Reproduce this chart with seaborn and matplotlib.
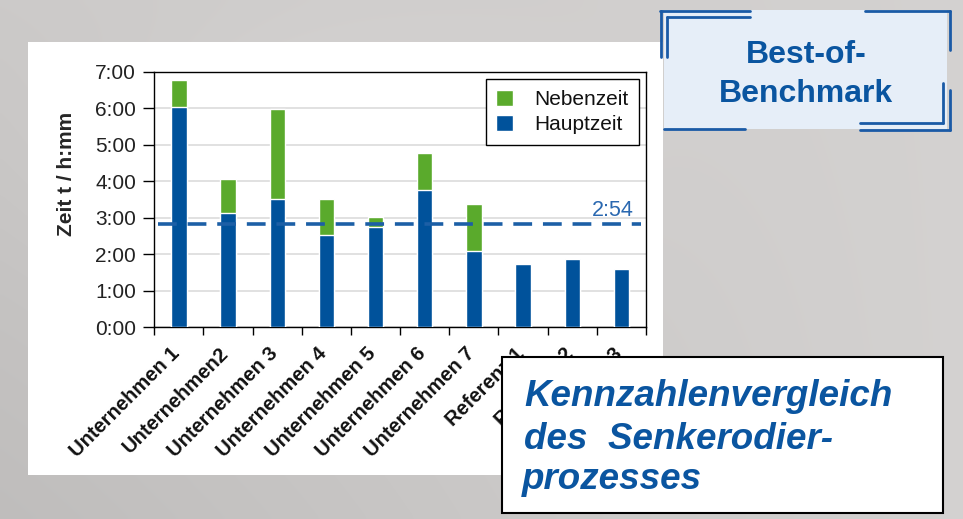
import numpy as np
import pandas as pd
import matplotlib
matplotlib.use("Agg")
import matplotlib.pyplot as plt
from matplotlib.patches import Rectangle
from matplotlib.lines import Line2D
from matplotlib.ticker import FixedLocator, FuncFormatter
from matplotlib.transforms import ScaledTranslation
import seaborn as sns

# ---- data (hours) ----
categories = ["Unternehmen 1", "Unternehmen2", "Unternehmen 3", "Unternehmen 4",
              "Unternehmen 5", "Unternehmen 6", "Unternehmen 7",
              "Referenz 1", "Referenz 2", "Referenz 3"]
hauptzeit = [6.04, 3.12, 3.51, 2.52, 2.74, 3.76, 2.08, 1.73, 1.87, 1.59]
nebenzeit = [0.73, 0.93, 2.48, 0.99, 0.27, 1.01, 1.29, 0.0, 0.0, 0.0]
benchmark = 2.82
benchmark_label = "2:54"
y_ticks = [0, 1, 2, 3, 4, 5, 6, 7]

BLUE = "#00529b"
GREEN = "#5aaa2c"
TXTBLUE = "#0a55a0"

sns.set_theme(style="white")
plt.rcParams["font.family"] = ["Liberation Sans", "DejaVu Sans"]

W, H = 963, 519
fig = plt.figure(figsize=(W / 100, H / 100), dpi=100)

# ---- blurred-looking background ----
bg = fig.add_axes([0, 0, 1, 1], zorder=-10)
yy, xx = np.mgrid[0:1:120j, 0:1:220j]
base = 0.80 + 0.04 * np.exp(-((xx - 0.35) ** 2 + (yy - 0.3) ** 2) / 0.05) \
       - 0.05 * yy * (1 - xx) + 0.03 * xx
img = np.dstack([base, base * 0.99, base * 0.985])
bg.imshow(np.clip(img, 0, 1), extent=[0, 1, 0, 1], aspect="auto", interpolation="bicubic")
bg.set_axis_off()

def fx(px):
    return px / W

def fy(py):
    return 1 - py / H

# white chart panel
fig.patches.append(Rectangle((fx(28), fy(475)), fx(663) - fx(28), fy(42) - fy(475),
                             transform=fig.transFigure, facecolor="white",
                             edgecolor="none", zorder=-5))

# ---- chart axes ----
ax = fig.add_axes([fx(154.3), fy(327.3), fx(646) - fx(154.3), fy(71.7) - fy(327.3)])
df = pd.DataFrame({"cat": categories,
                   "haupt": hauptzeit,
                   "total": np.array(hauptzeit) + np.array(nebenzeit)})
sns.barplot(data=df, x="cat", y="total", color=GREEN, width=0.31, ax=ax,
            saturation=1, label="Nebenzeit", zorder=3)
sns.barplot(data=df, x="cat", y="haupt", color=BLUE, width=0.31, ax=ax,
            saturation=1, label="Hauptzeit", zorder=3)

ax.set_xlim(-0.5, len(categories) - 0.5)
ax.set_ylim(0, 7)
ax.yaxis.set_major_locator(FixedLocator(y_ticks))
ax.yaxis.set_major_formatter(FuncFormatter(lambda v, p: f"{int(v)}:00"))
ax.grid(axis="y", color="#dcdcdc", linewidth=1.2, zorder=0)
ax.set_axisbelow(True)
for s in ax.spines.values():
    s.set_visible(True)
    s.set_color("black")
    s.set_linewidth(1.0)

ax.axhline(benchmark, xmin=0.008, xmax=0.99, color="#1c5fa6", linewidth=2.6,
           dashes=(5.2, 3.0), zorder=4)
ax.text(8.83, benchmark + 0.23, benchmark_label, color="#2a68b0",
        fontsize=15.5, ha="center", va="baseline")

ax.set_xlabel("")
ax.set_ylabel("Zeit t / h:mm", fontsize=15, fontweight="bold")
ax.yaxis.set_label_coords(-0.16, 0.60)
ax.tick_params(axis="y", labelsize=15, length=8, width=1, direction="out",
               left=True, color="black", pad=5, labelcolor="#222222")
ax.set_xticks(np.arange(len(categories)))
ax.set_xticklabels(categories, rotation=45, ha="right", rotation_mode="anchor",
                   fontsize=14.5, fontweight="bold", color="#111111")
ax.tick_params(axis="x", length=0, pad=12)
shift = ScaledTranslation(-9 / 100, 0, fig.dpi_scale_trans)
for lab in ax.get_xticklabels():
    lab.set_transform(lab.get_transform() + shift)
ax.set_xticks(np.arange(-0.5, len(categories), 1.0), minor=True)
ax.tick_params(axis="x", which="minor", length=6, width=1, direction="out",
               bottom=True, color="black")

handles, labels = ax.get_legend_handles_labels()
leg = ax.legend(handles, labels, loc="upper right", fontsize=15, frameon=True,
                fancybox=False, edgecolor="black", framealpha=1,
                handlelength=0.8, handleheight=0.8, handletextpad=1.0,
                borderpad=0.5, labelspacing=0.3, borderaxespad=0,
                bbox_to_anchor=(0.985, 0.97))
leg.get_frame().set_linewidth(1.0)
for t in leg.get_texts():
    t.set_color("#111111")

# ---- Best-of-Benchmark box ----
fig.patches.append(Rectangle((fx(664), fy(129)), fx(947) - fx(664), fy(10) - fy(129),
                             transform=fig.transFigure, facecolor="#e6eef8",
                             edgecolor="none", zorder=5))
bl = dict(color="#1a5aa6", linewidth=2.0, transform=fig.transFigure, zorder=6)
segs = [
    [(660, 11), (750, 11)], [(661, 11), (661, 57)],
    [(667, 17), (750, 17)], [(667, 17), (667, 57)],
    [(865, 11), (950, 11)], [(950, 11), (950, 50)],
    [(860, 123), (943, 123)], [(943, 83), (943, 123)],
    [(860, 130), (950, 130)], [(950, 90), (950, 130)],
    [(664, 129), (745, 129)],
]
for (x0, y0), (x1, y1) in segs:
    fig.lines.append(Line2D([fx(x0), fx(x1)], [fy(y0), fy(y1)], **bl))
for txt, base_y in [("Best-of-", 63), ("Benchmark", 102)]:
    fig.text(fx(806), fy(base_y), txt, color=TXTBLUE, fontsize=23,
             fontweight="bold", ha="center", va="baseline", zorder=7)

# ---- Kennzahlenvergleich box ----
fig.patches.append(Rectangle((fx(502), fy(513)), fx(943) - fx(502), fy(357) - fy(513),
                             transform=fig.transFigure, facecolor="white",
                             edgecolor="black", linewidth=1.5, zorder=5))
for txt, base_y, x0 in [("Kennzahlenvergleich", 406, 524),
                        ("des  Senkerodier-", 449, 524),
                        ("prozesses", 489, 522)]:
    fig.text(fx(x0), fy(base_y), txt, color=TXTBLUE, fontsize=26.5,
             fontweight="bold", fontstyle="italic", ha="left", va="baseline", zorder=7)

fig.savefig("out.png", dpi=100)
